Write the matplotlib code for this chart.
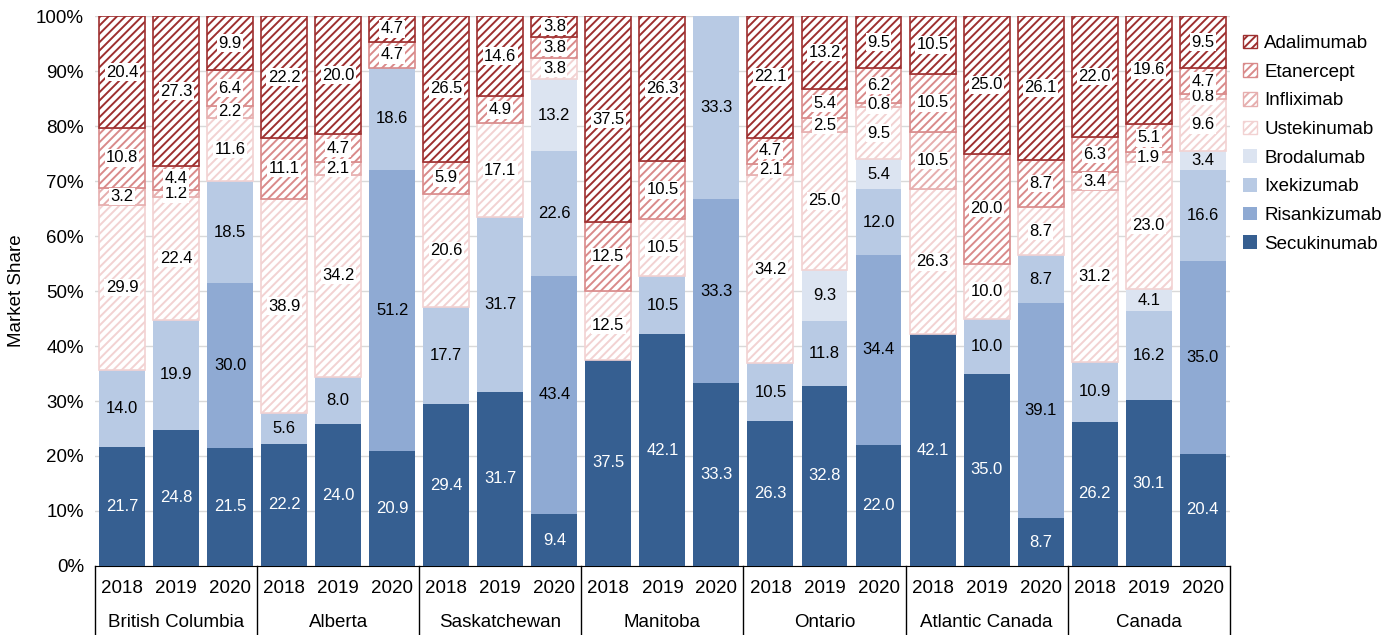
import numpy as np
import matplotlib
matplotlib.use("Agg")
import matplotlib.pyplot as plt
from matplotlib.patches import Patch

plt.rcParams['font.family'] = ['Liberation Sans', 'DejaVu Sans']
plt.rcParams['hatch.linewidth'] = 1.4

# data
regions = ["British Columbia", "Alberta", "Saskatchewan", "Manitoba",
           "Ontario", "Atlantic Canada", "Canada"]
years = ["2018", "2019", "2020"]

secukinumab = [21.7, 24.8, 21.5, 22.2, 24.0, 20.9, 29.4, 31.7, 9.4, 37.5, 42.1, 33.3,
               26.3, 32.8, 22.0, 42.1, 35.0, 8.7, 26.2, 30.1, 20.4]
risankizumab = [0, 0, 30.0, 0, 0, 51.2, 0, 0, 43.4, 0, 0, 33.3,
                0, 0, 34.4, 0, 0, 39.1, 0, 0, 35.0]
ixekizumab = [14.0, 19.9, 18.5, 5.6, 8.0, 18.6, 17.7, 31.7, 22.6, 0, 10.5, 33.3,
              10.5, 11.8, 12.0, 0, 10.0, 8.7, 10.9, 16.2, 16.6]
brodalumab = [0, 0, 0, 0, 0, 0, 0, 0, 13.2, 0, 0, 0,
              0, 9.3, 5.4, 0, 0, 0, 0, 4.1, 3.4]
ustekinumab = [29.9, 22.4, 11.6, 38.9, 34.2, 0, 20.6, 17.1, 3.8, 12.5, 10.5, 0,
               34.2, 25.0, 9.5, 26.3, 10.0, 8.7, 31.2, 23.0, 9.6]
infliximab = [3.2, 1.2, 2.2, 0, 2.1, 0, 0, 0, 0, 0, 0, 0,
              2.1, 2.5, 0.8, 10.5, 0, 0, 3.4, 1.9, 0.8]
etanercept = [10.8, 4.4, 6.4, 11.1, 4.7, 4.7, 5.9, 4.9, 3.8, 12.5, 10.5, 0,
              4.7, 5.4, 6.2, 10.5, 20.0, 8.7, 6.3, 5.1, 4.7]
adalimumab = [20.4, 27.3, 9.9, 22.2, 20.0, 4.7, 26.5, 14.6, 3.8, 37.5, 26.3, 0,
              22.1, 13.2, 9.5, 10.5, 25.0, 26.1, 22.0, 19.6, 9.5]

series = [
    ("Secukinumab", secukinumab, "#365F91", None),
    ("Risankizumab", risankizumab, "#8FAAD3", None),
    ("Ixekizumab", ixekizumab, "#B8CAE4", None),
    ("Brodalumab", brodalumab, "#DCE4F1", None),
    ("Ustekinumab", ustekinumab, "#F2D2D2", "////"),
    ("Infliximab", infliximab, "#E6AEAE", "////"),
    ("Etanercept", etanercept, "#D98A8A", "////"),
    ("Adalimumab", adalimumab, "#9E2F2F", "////"),
]

n = len(secukinumab)
x = np.arange(n)
totals = np.sum([s[1] for s in series], axis=0)

fig = plt.figure(figsize=(13.83, 6.35), dpi=100)
ax = fig.add_axes([0.0687, 0.1087, 0.8205, 0.866])

bottom = np.zeros(n)
for name, vals, color, hatch in series:
    vals = np.array(vals, dtype=float)
    h = vals / totals * 100
    if hatch:
        lw = [1.2 if v > 0 else 0 for v in vals]
        ax.bar(x, h, 0.85, bottom=bottom, facecolor="white", edgecolor=color,
               hatch=hatch, linewidth=lw, zorder=3)
    else:
        ax.bar(x, h, 0.85, bottom=bottom, color=color, linewidth=0, zorder=3)
    for i in range(n):
        if vals[i] <= 0:
            continue
        yc = bottom[i] + h[i] / 2
        if name == "Secukinumab":
            ax.text(x[i], yc, f"{vals[i]:.1f}", ha="center", va="center",
                    color="white", fontsize=12, zorder=5)
        elif hatch:
            ax.text(x[i], yc, f"{vals[i]:.1f}", ha="center", va="center",
                    color="black", fontsize=12, zorder=5,
                    bbox=dict(facecolor="white", edgecolor="none", pad=1.0))
        else:
            ax.text(x[i], yc, f"{vals[i]:.1f}", ha="center", va="center",
                    color="black", fontsize=12, zorder=5)
    bottom += h

ax.set_xlim(-0.5, n - 0.5)
ax.set_ylim(0, 100)
ax.set_yticks(np.arange(0, 101, 10))
ax.set_yticklabels([f"{v}%" for v in range(0, 101, 10)], fontsize=13.5)
ax.yaxis.grid(True, color="#D9D9D9", linewidth=1)
ax.set_axisbelow(True)
ax.tick_params(axis="y", length=0, pad=8)
ax.set_ylabel("Market Share", fontsize=13.5, labelpad=8)

for sp in ["top", "right", "left"]:
    ax.spines[sp].set_visible(False)
ax.spines["bottom"].set_color("black")

# two-level x axis
ax.set_xticks(x)
ax.set_xticklabels(years * len(regions), fontsize=13.5)
ax.tick_params(axis="x", length=0, pad=10)

trans = ax.get_xaxis_transform()
for g in range(len(regions) + 1):
    xb = g * 3 - 0.5
    ax.plot([xb, xb], [0, -0.13], transform=trans, color="black",
            linewidth=1, clip_on=False)
for g, reg in enumerate(regions):
    ax.text(g * 3 + 1, -0.102, reg, transform=trans, ha="center", va="center",
            fontsize=13.5)

handles = [Patch(facecolor="white" if h else c, edgecolor=c if h else "none",
                 hatch=h, label=nm) for nm, _, c, h in series]
leg = ax.legend(handles=handles[::-1], loc="upper left", bbox_to_anchor=(1.0, 0.99),
                frameon=False, fontsize=13.5, handlelength=0.75, handleheight=0.75,
                handletextpad=0.4, labelspacing=0.6, borderaxespad=0.3)

fig.savefig("out.png", dpi=100)
